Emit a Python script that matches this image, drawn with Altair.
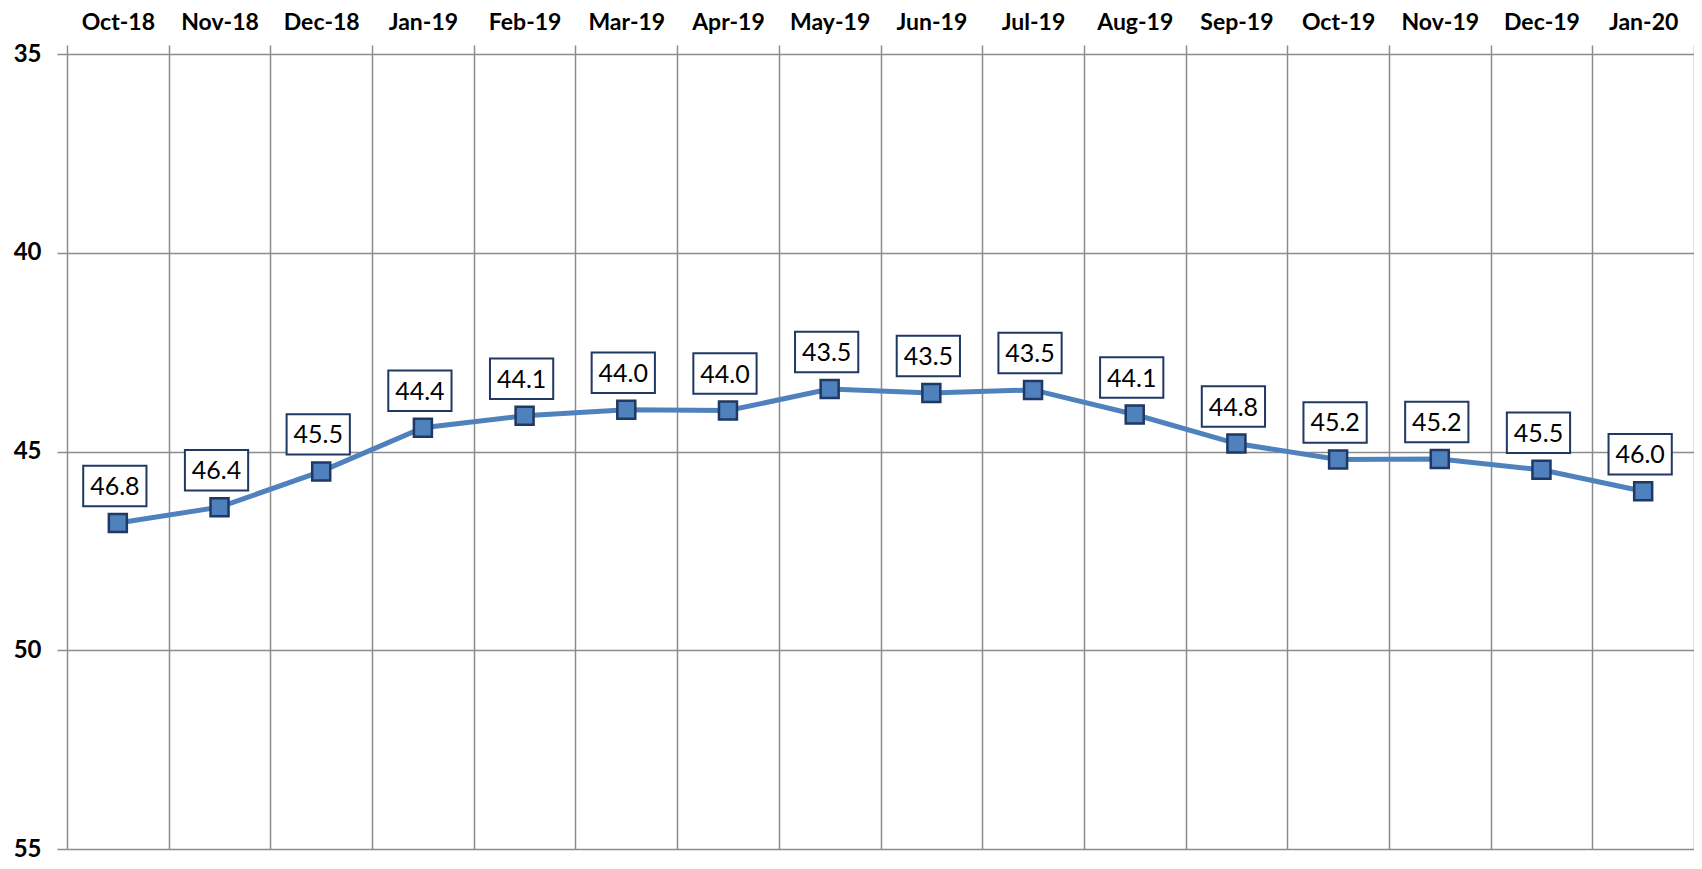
import altair as alt
import pandas as pd

months = ["Oct-18", "Nov-18", "Dec-18", "Jan-19", "Feb-19", "Mar-19", "Apr-19", "May-19",
          "Jun-19", "Jul-19", "Aug-19", "Sep-19", "Oct-19", "Nov-19", "Dec-19", "Jan-20"]
values = [46.8, 46.4, 45.5, 44.4, 44.1, 43.95, 43.97, 43.43,
          43.53, 43.45, 44.07, 44.8, 45.2, 45.19, 45.46, 46.0]
labels = ["46.8", "46.4", "45.5", "44.4", "44.1", "44.0", "44.0", "43.5",
          "43.5", "43.5", "44.1", "44.8", "45.2", "45.2", "45.5", "46.0"]
y_ticks = [35, 40, 45, 50, 55]

df = pd.DataFrame({"month": months, "value": values, "label": labels})

FONT = "Lato"
GRID = "#8c8c8c"
BLUE = "#4F81BD"
NAVY = "#1F3864"

x = alt.X("month:N", sort=months, title=None,
          scale=alt.Scale(type="band", paddingInner=0, paddingOuter=0),
          axis=alt.Axis(orient="top", labelAngle=0, tickBand="extent", grid=True,
                        gridColor=GRID, gridWidth=1.5, tickColor=GRID, tickWidth=1.5,
                        tickSize=9, domain=False, labelFont=FONT, labelFontSize=23,
                        labelFontWeight="bold", labelColor="black", labelPadding=11))
y = alt.Y("value:Q", title=None,
          scale=alt.Scale(domain=[35, 55], reverse=True, nice=False, zero=False),
          axis=alt.Axis(values=y_ticks, grid=True, gridColor=GRID, gridWidth=1.5,
                        tickColor=GRID, tickWidth=1.5, tickSize=10, domain=False,
                        labelFont=FONT, labelFontSize=24, labelFontWeight="bold",
                        labelColor="black", labelPadding=16))

base = alt.Chart(df).encode(x=x, y=y)

line = base.mark_line(color=BLUE, strokeWidth=5)
pts = base.mark_point(shape="square", size=324, filled=True, fill=BLUE,
                      stroke=NAVY, strokeWidth=2.5, opacity=1)
box = base.mark_point(shape="M-1,-0.64L1,-0.64L1,0.64L-1,0.64Z", size=4000,
                      filled=True, fill="white", stroke=NAVY, strokeWidth=2,
                      opacity=1, xOffset=-3, yOffset=-37)
txt = base.mark_text(font=FONT, fontSize=25, color="black", baseline="middle",
                     align="center", xOffset=-3, yOffset=-36).encode(text="label:N")

chart = alt.layer(line, pts, box, txt).properties(
    width=1627, height=795,
    autosize=alt.AutoSizeParams(type="none"),
    padding={"left": 59, "top": 46, "right": 0, "bottom": 12},
).configure_view(stroke=None)

chart.save("out.html", embed_options={"renderer": "svg", "actions": False})
